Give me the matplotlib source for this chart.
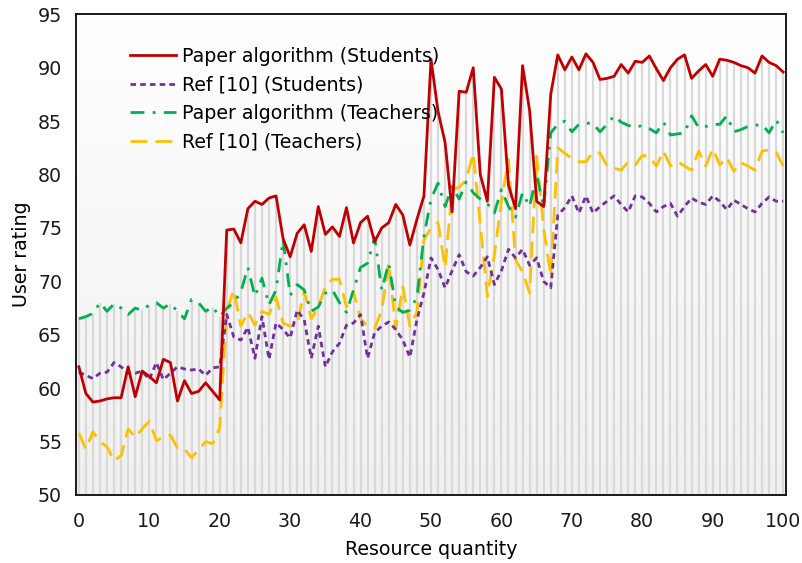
import matplotlib
matplotlib.use("Agg")
import matplotlib.pyplot as plt
import numpy as np

# resource quantity 0..100
x = list(range(101))

paper_students = [62.0, 59.5, 58.7, 58.8, 59.0, 59.1, 59.1, 62.0, 59.2, 61.6,
                  61.1, 60.5, 62.7, 62.4, 58.8, 60.7, 59.5, 59.7, 60.5, 59.7,
                  58.9, 74.8, 74.9, 73.6, 76.8, 77.5, 77.2, 77.8, 78.0, 74.0,
                  72.3, 74.5, 75.3, 72.8, 77.0, 74.4, 75.1, 74.2, 76.9, 73.6,
                  75.5, 76.1, 73.7, 75.0, 75.5, 77.2, 76.2, 73.4, 75.8, 78.0,
                  90.8, 85.9, 83.0, 76.5, 87.8, 87.7, 90.0, 80.0, 77.5, 89.1,
                  88.0, 79.0, 76.8, 90.2, 86.0, 77.5, 77.0, 87.5, 91.2, 89.8,
                  91.0, 89.8, 91.3, 90.5, 88.9, 89.0, 89.2, 90.3, 89.5, 90.6,
                  90.5, 91.1, 89.9, 88.8, 90.0, 90.8, 91.2, 89.0, 89.7, 90.3,
                  89.2, 90.8, 90.7, 90.5, 90.2, 90.0, 89.5, 91.1, 90.5, 90.2,
                  89.6]

ref_students = [61.5, 61.2, 60.9, 61.4, 61.5, 62.4, 62.0, 61.4, 61.4, 61.6,
                60.8, 62.4, 60.8, 61.4, 62.0, 61.8, 61.7, 61.8, 61.2, 61.9,
                62.0, 66.9, 64.8, 64.5, 65.7, 62.8, 66.7, 62.7, 66.1, 65.5,
                64.7, 67.3, 66.4, 62.8, 65.8, 62.0, 63.4, 64.2, 65.9, 66.1,
                66.9, 62.8, 65.2, 65.8, 66.2, 65.5, 64.5, 62.9, 66.4, 68.9,
                72.2, 71.1, 69.4, 71.0, 72.5, 70.9, 70.5, 71.3, 72.3, 69.7,
                71.0, 73.0, 72.2, 73.0, 71.5, 72.2, 70.0, 69.4, 76.2, 76.9,
                78.0, 76.4, 78.0, 76.4, 77.0, 77.5, 78.0, 77.2, 76.5, 78.0,
                77.9, 77.3, 76.5, 77.0, 77.3, 76.1, 77.0, 77.8, 77.4, 77.2,
                78.0, 77.5, 76.7, 77.6, 77.2, 76.8, 76.5, 77.3, 77.9, 77.5,
                77.5]

paper_teachers = [66.5, 66.7, 67.0, 68.0, 67.2, 67.9, 67.5, 66.9, 67.5, 67.3,
                  67.8, 68.0, 67.5, 67.9, 67.2, 66.5, 68.3, 68.0, 67.2, 67.6,
                  66.7, 67.5, 68.0, 69.0, 71.3, 68.6, 70.3, 67.8, 69.2, 73.9,
                  68.7, 69.7, 69.2, 67.2, 67.6, 68.9, 69.2, 68.0, 67.1, 69.2,
                  71.3, 71.7, 74.1, 69.2, 71.7, 67.6, 67.1, 67.3, 68.5, 74.2,
                  77.7, 79.2, 77.0, 78.9, 77.7, 79.3, 78.3, 77.7, 77.3, 76.4,
                  78.6, 77.0, 76.0, 78.3, 77.0, 80.0, 76.9, 83.9, 84.7, 85.0,
                  84.0, 84.7, 84.8, 84.8, 84.0, 84.7, 85.5, 84.9, 84.6, 84.4,
                  84.6, 84.3, 83.9, 84.9, 83.7, 83.8, 83.9, 85.5, 84.4, 84.5,
                  84.7, 84.7, 85.5, 84.0, 84.2, 84.5, 84.6, 84.7, 83.9, 85.1,
                  83.9]

ref_teachers = [55.8, 54.3, 55.9, 55.0, 54.5, 53.2, 53.7, 56.2, 55.4, 56.2,
                56.9, 55.1, 55.4, 55.6, 54.4, 54.3, 53.5, 54.2, 55.0, 54.8,
                56.3, 67.2, 69.2, 65.8, 67.1, 65.9, 67.2, 66.9, 68.5, 66.1,
                65.8, 66.0, 69.1, 66.5, 67.6, 69.5, 70.2, 70.2, 67.6, 69.0,
                66.5, 65.8, 65.6, 67.3, 71.7, 65.6, 69.5, 65.8, 67.1, 73.9,
                75.0, 75.5, 71.3, 78.6, 78.8, 79.5, 82.0, 75.3, 68.6, 72.5,
                77.5, 81.4, 72.0, 70.9, 68.9, 81.7, 75.0, 70.5, 82.5, 82.0,
                81.5, 81.2, 81.2, 82.1, 82.0, 80.8, 80.6, 80.4, 81.2, 80.9,
                81.8, 81.7, 80.8, 82.2, 80.8, 81.2, 80.8, 80.4, 82.2, 80.8,
                82.4, 80.9, 81.6, 80.3, 81.1, 80.8, 80.4, 82.2, 82.3, 82.1,
                80.8]

labels = ['Paper algorithm (Students)', 'Ref [10] (Students)',
          'Paper algorithm (Teachers)', 'Ref [10] (Teachers)']
colors = ['#C00000', '#7030A0', '#00B050', '#FFC000']

plt.rcParams['font.family'] = ['DejaVu Sans']
fs = 13.7
fig = plt.figure(figsize=(8.02, 5.63), dpi=100)
ax = fig.add_axes([0.0948, 0.1208, 0.8852, 0.8538])

ymin, ymax = 50, 95
ax.set_xlim(-0.4, 100.4)
ax.set_ylim(ymin, ymax)

# soft white-to-grey background
grad = np.linspace(0, 1, 256).reshape(-1, 1)
ax.imshow(grad, extent=[-0.4, 100.4, ymin, ymax], aspect='auto',
          cmap=matplotlib.colors.LinearSegmentedColormap.from_list('bg', ['#f0f0f0', '#ffffff']),
          origin='lower', zorder=0)

# drop lines up to the highest series at each x
top = np.max([paper_students, ref_students, paper_teachers, ref_teachers], axis=0)
ax.vlines(x, ymin, top, color='#d9d9d9', lw=1.6, zorder=1)

ax.plot(x, paper_students, color=colors[0], lw=2, label=labels[0], zorder=5)
ax.plot(x, ref_students, color=colors[1], lw=2, ls=(0, (2, 1.5)), label=labels[1], zorder=4)
ax.plot(x, paper_teachers, color=colors[2], lw=2, ls=(0, (5, 3, 1, 3)), label=labels[2], zorder=3)
ax.plot(x, ref_teachers, color=colors[3], lw=2, ls=(0, (6, 3)), label=labels[3], zorder=2)

ax.set_xticks(range(0, 101, 10))
ax.set_yticks(range(50, 96, 5))
ax.tick_params(length=0, labelsize=fs, colors='#1a1a1a')
ax.tick_params(axis='x', pad=12)
ax.tick_params(axis='y', pad=10)
for s in ax.spines.values():
    s.set_linewidth(1.4)
    s.set_color('#1a1a1a')

ax.set_xlabel('Resource quantity', fontsize=fs, labelpad=7)
ax.set_ylabel('User rating', fontsize=fs, labelpad=5)

ax.legend(loc='upper left', bbox_to_anchor=(0.076, 0.932), frameon=False,
          fontsize=fs, handlelength=2.4, labelspacing=0.5, handletextpad=0.35,
          borderpad=0, borderaxespad=0)

fig.savefig('out.png', dpi=100)
